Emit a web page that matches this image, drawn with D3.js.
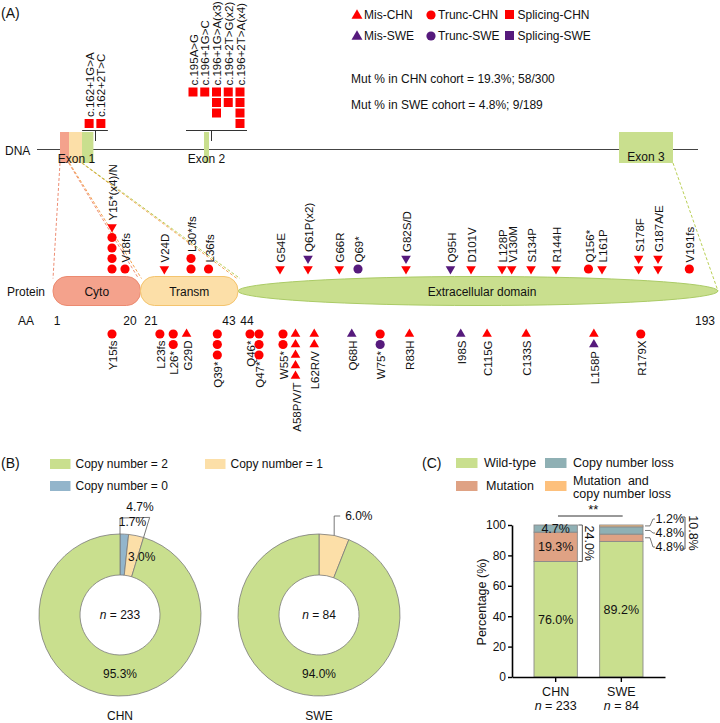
<!DOCTYPE html>
<html><head><meta charset="utf-8">
<script src="https://cdn.jsdelivr.net/npm/d3@7"></script>
<style>body{margin:0;background:#fff} text{font-family:"Liberation Sans",Arial,sans-serif;fill:#111}</style>
</head><body><svg id="c" width="720" height="723"></svg>
<script>
// ---------------- DATA ----------------
const exonNames = ["Exon 1","Exon 2","Exon 3"];
const exonCdna = [[1,162],[163,196],[197,582]];
const domainNames = ["Cyto","Transm","Extracellular domain"];
const domainAA = [[1,20],[21,43],[44,193]];
const aaTicks = [1,20,21,43,44,193];
const exon1Splice = [{label:"c.162+1G>A",n:1},{label:"c.162+2T>C",n:1}];
const exon2Splice = [{label:"c.195A>G",n:1},{label:"c.196+1G>C",n:1},{label:"c.196+1G>A(x3)",n:3},{label:"c.196+2T>G(x2)",n:2},{label:"c.196+2T>A(x4)",n:4}];
// marks: M=missense T=truncating, C=CHN S=SWE (listed from protein outward)
const mutAbove = [
 {label:"Y15*(x4)/N",aa:15,marks:["TC","TC","TC","TC","MC"]},
 {label:"V18fs",aa:18,marks:["TC"]},
 {label:"V24D",aa:24,marks:["MC"]},
 {label:"L30*/fs",aa:30,marks:["TC","TC"]},
 {label:"L36fs",aa:36,marks:["TC"]},
 {label:"G54E",aa:54,marks:["MC"]},
 {label:"Q61P(x2)",aa:61,marks:["MC","MS"]},
 {label:"G66R",aa:66,marks:["MC"]},
 {label:"Q69*",aa:69,marks:["TS"]},
 {label:"G82S/D",aa:82,marks:["MC","MS"]},
 {label:"Q95H",aa:95,marks:["MS"]},
 {label:"D101V",aa:101,marks:["MC"]},
 {label:"L128P",aa:128,marks:["MC"]},
 {label:"V130M",aa:130,marks:["MC"]},
 {label:"S134P",aa:134,marks:["MC"]},
 {label:"R144H",aa:144,marks:["MC"]},
 {label:"Q156*",aa:156,marks:["TC"]},
 {label:"L161P",aa:161,marks:["MC"]},
 {label:"S178F",aa:178,marks:["MC","MC"]},
 {label:"G187A/E",aa:187,marks:["MC","MC"]},
 {label:"V191fs",aa:191,marks:["TC"]}
];
const mutBelow = [
 {label:"Y15fs",aa:15,marks:["TC"]},
 {label:"L23fs",aa:23,marks:["TC"]},
 {label:"L26*",aa:26,marks:["TC","TC"]},
 {label:"G29D",aa:29,marks:["MC"]},
 {label:"Q39*",aa:39,marks:["TC","TC","TC"]},
 {label:"Q46*",aa:46,marks:["TC"]},
 {label:"Q47*",aa:47,marks:["TC","TC","TC"]},
 {label:"W55*",aa:55,marks:["TC","TC"]},
 {label:"A58P/V/T",aa:58,marks:["MC","MC","MC","MC","MC"]},
 {label:"L62R/V",aa:62,marks:["MC","MC"]},
 {label:"Q68H",aa:68,marks:["MS"]},
 {label:"W75*",aa:75,marks:["TC","TS"]},
 {label:"R83H",aa:83,marks:["MC"]},
 {label:"I98S",aa:98,marks:["MS"]},
 {label:"C115G",aa:115,marks:["MC"]},
 {label:"C133S",aa:133,marks:["MC"]},
 {label:"L158P",aa:158,marks:["MC","MS"]},
 {label:"R179X",aa:179,marks:["TC"]}
];
const legendA = [
 {label:"Mis-CHN",type:"M",cohort:"C"},{label:"Trunc-CHN",type:"T",cohort:"C"},{label:"Splicing-CHN",type:"S",cohort:"C"},
 {label:"Mis-SWE",type:"M",cohort:"S"},{label:"Trunc-SWE",type:"T",cohort:"S"},{label:"Splicing-SWE",type:"S",cohort:"S"}
];
const cohortTexts = ["Mut % in CHN cohort = 19.3%; 58/300","Mut % in SWE cohort = 4.8%; 9/189"];

// Panel B
const cnCategories = ["Copy number = 0","Copy number = 1","Copy number = 2"];
const cnCHN = [1.7, 3.0, 95.3];
const cnSWE = [0, 6.0, 94.0];
const cohortNames = ["CHN","SWE"];
const cohortN = [233, 84];

// Panel C
const statusKeys = ["Wild-type","Mutation","Copy number loss","Mutation  and|copy number loss"];
const statusCHN = [76.0, 19.3, 4.7, 0];
const statusSWE = [89.2, 4.8, 4.8, 1.2];
const yTicksC = [0,20,40,60,80,100];

// ---------------- STYLE / LAYOUT ----------------
const RED = "#FF0000", PURPLE = "#561A7C";
const C_CYTO = "#F4A28C", C_CYTO_S = "#EC8A70";
const C_TM = "#FCDFA8", C_TM_S = "#F4C46E";
const C_EC = "#C9DF8E", C_EC_S = "#ABCB66";
const C_CN0 = "#93B5CB";
const C_MUT = "#DFA284", C_CNL = "#8FB0B4", C_BOTH = "#FDC07C";

const svg = d3.select("#c");
function txt(g, x, y, s, o = {}) {
  const t = g.append("text").attr("x", x).attr("y", y).attr("dy", "0.35em")
    .attr("font-size", o.size || 12).attr("text-anchor", o.anchor || "start").text(s);
  if (o.transform) t.attr("transform", o.transform);
  return t;
}

// display scale for amino acids (schematic, non-proportional)
const aaKnots = [1, 15, 18, 20, 21, 30, 43, 44, 46, 47, 55, 61, 69, 82, 101, 128, 134, 144, 161, 187, 193];
const xKnots  = [57, 112, 125, 130, 151, 191, 229, 247, 250, 259, 283, 308, 358, 406, 471, 502, 531, 556, 602, 658, 705];
const xAA = d3.scaleLinear().domain(aaKnots).range(xKnots);
// schematic DNA scale (introns compressed)
const xDNA = d3.scaleLinear().domain([1, 60, 130, 162, 163, 196, 197, 582]).range([60, 69, 82, 93, 204, 209, 619, 673]);

// ---------------- PANEL A ----------------
const A = svg.append("g");
txt(A, 1, 13, "(A)", {size: 14});

// DNA line
const dnaY = 149.5;
txt(A, 5, dnaY + 1, "DNA");
A.append("line").attr("x1", 37).attr("x2", 698).attr("y1", dnaY).attr("y2", dnaY).attr("stroke", "#444").attr("stroke-width", 1.1);

// exons
const exTop = 132, exBot = 163;
const ex1Parts = [[1, domainAA[0][1]*3, C_CYTO], [domainAA[1][0]*3-3, domainAA[1][1]*3+1, C_TM], [domainAA[2][0]*3-2, 162, C_EC]];
ex1Parts.forEach(p => {
  A.append("rect").attr("x", xDNA(p[0])).attr("width", xDNA(p[1]) - xDNA(p[0]) + 0.4)
    .attr("y", exTop).attr("height", exBot - exTop).attr("fill", p[2]);
});
[1, 2].forEach(i => {
  A.append("rect").attr("x", xDNA(exonCdna[i][0])).attr("width", xDNA(exonCdna[i][1]) - xDNA(exonCdna[i][0]))
    .attr("y", exTop).attr("height", exBot - exTop).attr("fill", C_EC);
});
exonNames.forEach((n, i) => {
  const cx = (xDNA(exonCdna[i][0]) + xDNA(exonCdna[i][1])) / 2;
  txt(A, cx, i === 2 ? 157 : 159, n, {anchor: "middle"});
});

// splicing mutations
function spliceGroup(list, exonEnd, offset) {
  const tick = xDNA(exonEnd) + 2.5;
  const center = xDNA(exonEnd) + offset;
  const sp = 11.75, sz = 9, rowH = 10.5;
  const maxN = d3.max(list, d => d.n);
  const bY = 130.5;
  const x0 = center - (list.length - 1) * sp / 2;
  const left = x0 - 7, right = x0 + (list.length - 1) * sp + 7;
  A.append("path").attr("d", `M${left},${bY}H${right}M${tick},${bY}V141`).attr("stroke", "#333").attr("fill", "none");
  const topRow = bY - 2 - maxN * rowH;
  list.forEach((d, i) => {
    const cx = x0 + i * sp;
    for (let k = 0; k < d.n; k++) {
      A.append("rect").attr("x", cx - sz / 2).attr("y", topRow + k * rowH + 1).attr("width", sz).attr("height", sz).attr("fill", RED);
    }
    txt(A, 0, 0, d.label, {size: 11.5, transform: `translate(${cx + 0.5},${topRow - 1}) rotate(-90)`});
  });
}
spliceGroup(exon1Splice, 162, 2);
spliceGroup(exon2Splice, 196, 7.5);

// legend
const legX = [357, 431, 509.5], legY = [15, 36];
legendA.forEach((d, i) => {
  const x = legX[i % 3], y = legY[Math.floor(i / 3)];
  const col = d.cohort === "C" ? RED : PURPLE;
  if (d.type === "M") A.append("path").attr("d", d3.symbol(d3.symbolTriangle, 52)()).attr("transform", `translate(${x},${y + 0.5})`).attr("fill", col);
  else if (d.type === "T") A.append("circle").attr("cx", x).attr("cy", y).attr("r", 4.6).attr("fill", col);
  else A.append("rect").attr("x", x - 4.5).attr("y", y - 5).attr("width", 9).attr("height", 9).attr("fill", col);
  txt(A, x + (d.type === "S" ? 8 : 7), y, d.label);
});
cohortTexts.forEach((t, i) => txt(A, 351, 79 + i * 26, t));

// protein domains
const pTop = 276.5, pBot = 305.5, pMid = (pTop + pBot) / 2;
const edges = [xAA(1) - 4, (xAA(20) + xAA(21)) / 2, (xAA(43) + xAA(44)) / 2, xAA(193) + 13];
// dashed connectors exon1 -> protein
const dash = [
  [xDNA(1), edges[0], "#EE8E74"],
  [xDNA(58), edges[1] - 2, "#EE8E74"],
  [xDNA(62), edges[1] + 1, "#F4A24E"],
  [xDNA(128), edges[2] - 1, "#F4A24E"],
  [xDNA(131), edges[2] + 2, "#B9CF55"],
  [xDNA(582), edges[3], "#B9CF55"]
];
dash.forEach(d => A.append("line").attr("x1", d[0]).attr("y1", exBot).attr("x2", d[1]).attr("y2", d === dash[5] ? pMid : pTop + 2)
  .attr("stroke", d[2]).attr("stroke-width", 1).attr("stroke-dasharray", "3,2"));

A.append("ellipse").attr("cx", (edges[2] + edges[3]) / 2).attr("cy", pMid).attr("rx", (edges[3] - edges[2]) / 2).attr("ry", (pBot - pTop) / 2)
  .attr("fill", C_EC).attr("stroke", C_EC_S).attr("stroke-width", 1);
A.append("rect").attr("x", edges[0]).attr("y", pTop).attr("width", edges[1] - edges[0]).attr("height", pBot - pTop).attr("rx", 14)
  .attr("fill", C_CYTO).attr("stroke", C_CYTO_S);
A.append("rect").attr("x", edges[1]).attr("y", pTop).attr("width", edges[2] - edges[1]).attr("height", pBot - pTop).attr("rx", 14)
  .attr("fill", C_TM).attr("stroke", C_TM_S);
domainNames.forEach((n, i) => txt(A, i < 2 ? (edges[i] + edges[i + 1]) / 2 : 482, pMid + 0.5, n, {anchor: "middle"}));
txt(A, 7, pMid + 1, "Protein");
txt(A, 18, 321, "AA");
aaTicks.forEach(a => txt(A, xAA(a), 321, a, {anchor: "middle"}));

// mutation stacks
const triPath = d3.symbol(d3.symbolTriangle, 40)();
function stacks(list, dir) {
  const base = dir < 0 ? 269 : 334, step = 10.5;
  const g = A.append("g");
  const grp = g.selectAll("g").data(list).join("g").attr("transform", d => `translate(${xAA(d.aa)},0)`);
  grp.selectAll(".m").data(d => d.marks.map((c, i) => ({c, i}))).join(e => e.append("path"))
    .attr("d", d => d.c[0] === "M" ? triPath : d3.symbol(d3.symbolCircle, 66)())
    .attr("transform", d => `translate(0,${base + dir * d.i * step}) rotate(${d.c[0] === "M" && dir < 0 ? 180 : 0})`)
    .attr("fill", d => d.c[1] === "C" ? RED : PURPLE);
  grp.append("text").attr("font-size", 11.5).attr("dy", "0.35em")
    .attr("text-anchor", dir < 0 ? "start" : "end")
    .attr("transform", d => `translate(1,${base + dir * ((d.marks.length - 1) * step + 6.5)}) rotate(-90)`)
    .text(d => d.label);
}
stacks(mutAbove, -1);
stacks(mutBelow, 1);

// ---------------- PANEL B ----------------
const B = svg.append("g");
txt(B, 1, 463, "(B)", {size: 14});
const legB = [[cnCategories[2], C_EC, 50, 464], [cnCategories[1], C_TM, 205, 464], [cnCategories[0], C_CN0, 50, 486]];
legB.forEach(d => {
  B.append("rect").attr("x", d[2]).attr("y", d[3] - 5).attr("width", 20.5).attr("height", 10).attr("fill", d[1]);
  txt(B, d[2] + 25.5, d[3], d[0]);
});
const cnColors = [C_CN0, C_TM, C_EC];
const pie = d3.pie().sort(null).value(d => d);
const arc = d3.arc().innerRadius(40).outerRadius(81);
const donutCx = [120, 319], donutCy = 615;
[cnCHN, cnSWE].forEach((vals, k) => {
  const g = B.append("g").attr("transform", `translate(${donutCx[k]},${donutCy})`);
  g.selectAll("path").data(pie(vals)).join("path").attr("d", arc)
    .attr("fill", (d, i) => cnColors[i]).attr("stroke", "#7a7a7a").attr("stroke-width", 0.8);
  const t = g.append("text").attr("text-anchor", "middle").attr("dy", "0.35em").attr("font-size", 12);
  t.append("tspan").attr("font-style", "italic").text("n");
  t.append("tspan").text(" = " + cohortN[k]);
  txt(g, 0, 59, vals[2].toFixed(1) + "%", {anchor: "middle"});
  txt(B, donutCx[k], 716, cohortNames[k], {anchor: "middle"});
});
function polar(r, a) { return [r * Math.sin(a), -r * Math.cos(a)]; }
// CHN annotations
{
  const g = B.append("g").attr("transform", `translate(${donutCx[0]},${donutCy})`);
  const th = (cnCHN[0] + cnCHN[1]) / 100 * 2 * Math.PI;
  const p = [polar(81, 0), polar(97, 0), polar(102, th), polar(81, th)];
  g.append("path").attr("d", "M" + p.join("L")).attr("fill", "none").attr("stroke", "#555").attr("stroke-width", 0.8);
  const a = polar(110, th * 0.62); txt(g, a[0], a[1], (cnCHN[0] + cnCHN[1]).toFixed(1) + "%", {anchor: "middle"});
  const b = polar(94, th * 0.45); txt(g, b[0], b[1], cnCHN[0].toFixed(1) + "%", {anchor: "middle"});
  const c = arc.centroid(pie(cnCHN)[1]); txt(g, c[0] - 4, c[1] + 1, cnCHN[1].toFixed(1) + "%");
}
// SWE annotation
{
  const g = B.append("g").attr("transform", `translate(${donutCx[1]},${donutCy})`);
  const th = cnSWE[1] / 100 * Math.PI;
  const s = polar(81, th);
  g.append("path").attr("d", `M${s[0]},${s[1]}V-99H${s[0] + 6}`).attr("fill", "none").attr("stroke", "#555").attr("stroke-width", 0.8);
  txt(g, s[0] + 11, -99, cnSWE[1].toFixed(1) + "%");
}

// ---------------- PANEL C ----------------
const Cg = svg.append("g");
txt(Cg, 422, 463, "(C)", {size: 14});
const statusColors = [C_EC, C_MUT, C_CNL, C_BOTH];
const legC = [[0, 456, 463], [2, 545, 463], [1, 456, 486], [3, 545, 486]];
legC.forEach(([k, x, y]) => {
  Cg.append("rect").attr("x", x).attr("y", y - 5).attr("width", 21.5).attr("height", 10).attr("fill", statusColors[k]);
  const lines = statusKeys[k].split("|");
  lines.forEach((l, j) => txt(Cg, x + (k === 1 ? 30 : 28), (lines.length > 1 ? y - 5 : y) + j * 13, l, {size: 12.5}).attr("xml:space", "preserve").style("white-space", "pre"));
});
const yC = d3.scaleLinear().domain([0, 100]).range([677, 525]);
const xC = d3.scaleBand().domain(cohortNames).range([512, 665]).paddingInner(0.34).paddingOuter(0.335);
const rows = cohortNames.map((c, i) => {
  const v = i === 0 ? statusCHN : statusSWE; const o = {cohort: c};
  statusKeys.forEach((k, j) => o[k] = v[j]); return o;
});
const series = d3.stack().keys(statusKeys)(rows);
series.forEach((s, j) => {
  Cg.selectAll(null).data(s).join("rect")
    .attr("x", d => xC(d.data.cohort)).attr("width", xC.bandwidth())
    .attr("y", d => yC(d[1])).attr("height", d => yC(d[0]) - yC(d[1]))
    .attr("fill", statusColors[j]).attr("stroke", "#8a8a8a").attr("stroke-width", 0.9);
});
// axes
const ax = Cg.append("g").attr("transform", "translate(512,0)")
  .call(d3.axisLeft(yC).tickValues(yTicksC).tickSize(4).tickSizeOuter(0).tickPadding(2));
ax.selectAll("text").attr("font-size", 12).attr("font-family", '"Liberation Sans",Arial,sans-serif').attr("fill", "#111");
ax.select(".domain").attr("stroke-width", 1.6);
ax.selectAll(".tick line").attr("stroke-width", 1.4);
const bx = Cg.append("g").attr("transform", "translate(0,677)")
  .call(d3.axisBottom(xC).tickSize(5).tickSizeOuter(0).tickFormat(""));
bx.select(".domain").attr("stroke-width", 1.6);
bx.selectAll(".tick line").attr("stroke-width", 1.4);
cohortNames.forEach((c, i) => {
  const cx = xC(c) + xC.bandwidth() / 2;
  txt(Cg, cx, 692, c, {anchor: "middle", size: 12.5});
  const t = Cg.append("text").attr("x", cx).attr("y", 706).attr("dy", "0.35em").attr("text-anchor", "middle").attr("font-size", 12.5);
  t.append("tspan").attr("font-style", "italic").text("n");
  t.append("tspan").text(" = " + cohortN[i]);
});
txt(Cg, 0, 0, "Percentage (%)", {anchor: "middle", size: 12.5, transform: "translate(482,602) rotate(-90)"});
// in-bar labels
series.forEach(s => {
  s.forEach(d => {
    const v = d[1] - d[0];
    if (d.data.cohort === "CHN" ? v > 0 : v > 50) {
      txt(Cg, xC(d.data.cohort) + xC.bandwidth() / 2, yC((d[0] + d[1]) / 2), v.toFixed(1) + "%", {anchor: "middle", size: 12.5});
    }
  });
});
// CHN bracket 24.0%
{
  const xr = xC("CHN") + xC.bandwidth() + 5;
  const top = yC(100), bot = yC(statusCHN[0]);
  Cg.append("path").attr("d", `M${xr - 4},${top}H${xr}V${bot}H${xr - 4}`).attr("fill", "none").attr("stroke", "#444").attr("stroke-width", 0.9);
  txt(Cg, 0, 0, (100 - statusCHN[0]).toFixed(1) + "%", {anchor: "middle", size: 12.5, transform: `translate(${xr + 7},${(top + bot) / 2}) rotate(90)`});
}
// SWE side labels
{
  const xr = xC("SWE") + xC.bandwidth();
  const swe = series.map(s => s[1]);
  const labY = [547, 533, 519];
  [1, 2, 3].forEach((j, n) => {
    const d = swe[j]; const mid = yC((d[0] + d[1]) / 2);
    Cg.append("path").attr("d", `M${xr + 2},${mid}H${xr + 7}L${xr + 10},${labY[n]}H${xr + 12}`).attr("fill", "none").attr("stroke", "#555").attr("stroke-width", 0.8);
    txt(Cg, xr + 12.5, labY[n], (d[1] - d[0]).toFixed(1) + "%", {size: 12.5});
  });
  const bx2 = xr + 42;
  Cg.append("path").attr("d", `M${bx2 - 4},${labY[2] - 2}H${bx2}V${labY[0] + 2}H${bx2 - 4}`).attr("fill", "none").attr("stroke", "#444").attr("stroke-width", 0.9);
  txt(Cg, 0, 0, (100 - statusSWE[0]).toFixed(1) + "%", {anchor: "middle", size: 12.5, transform: `translate(${bx2 + 8},${(labY[0] + labY[2]) / 2}) rotate(90)`});
}
// significance
{
  const l1 = xC("CHN") + 24, l2 = xC("SWE") + 23;
  Cg.append("line").attr("x1", l1).attr("x2", l2).attr("y1", 516).attr("y2", 516).attr("stroke", "#333");
  txt(Cg, (l1 + l2) / 2 + 3, 509, "**", {anchor: "middle", size: 13});
}
</script></body></html>
